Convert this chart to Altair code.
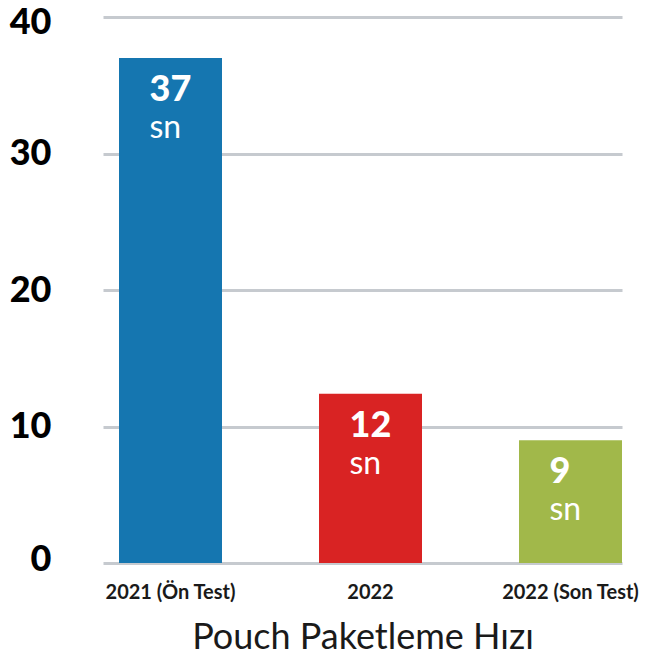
import altair as alt
import pandas as pd

categories = ["2021 (Ön Test)", "2022", "2022 (Son Test)"]
values = [37, 12.4, 9]
value_labels = ["37", "12", "9"]
unit_labels = ["sn", "sn", "sn"]
colors = ["#1576b0", "#d92323", "#a1b84a"]
y_ticks = [0, 10, 20, 30, 40]
title_text = "Pouch Paketleme Hızı"

df = pd.DataFrame({
    "cat": categories,
    "val": values,
    "lbl": value_labels,
    "unit": unit_labels,
})

FONT = "Lato"

x_enc = alt.X(
    "cat:N",
    sort=categories,
    scale=alt.Scale(paddingInner=0.485, paddingOuter=0.04, align=1),
    axis=alt.Axis(
        title=title_text,
        labelAngle=0,
        labelFont=FONT,
        labelFontSize=20,
        labelFontWeight="bold",
        labelColor="#1a1a1a",
        labelPadding=19,
        domain=False,
        ticks=False,
        grid=False,
        titleFont=FONT,
        titleFontSize=36,
        titleFontWeight="normal",
        titleColor="#1a1a1a",
        titlePadding=18,
    ),
)

y_scale = alt.Scale(domain=[0, 40], nice=False)

bars = alt.Chart(df).mark_bar().encode(
    x=x_enc,
    y=alt.Y(
        "val:Q",
        scale=y_scale,
        axis=alt.Axis(
            values=y_ticks,
            title=None,
            labelFont=FONT,
            labelFontSize=36,
            labelFontWeight=900,
            labelColor="#000000",
            labelPadding=52,
            labelOffset={
                "condition": [
                    {"test": "datum.value == 40", "value": 5},
                    {"test": "datum.value == 0", "value": -4},
                ],
                "value": 0,
            },
            domain=False,
            ticks=False,
            grid=True,
            gridColor="#c6cacf",
            gridWidth=3,
        ),
    ),
    color=alt.Color("cat:N", scale=alt.Scale(domain=categories, range=colors), legend=None),
)

nums = alt.Chart(df).mark_text(
    align="left", baseline="alphabetic", dx=-21, dy=43,
    font=FONT, fontSize=36, fontWeight=900, color="white",
).encode(
    x=alt.X("cat:N", sort=categories),
    y=alt.Y("val:Q", scale=y_scale),
    text="lbl:N",
)

units = alt.Chart(df).mark_text(
    align="left", baseline="alphabetic", dx=-21, dy=80,
    font=FONT, fontSize=32, fontWeight="normal", color="white",
).encode(
    x=alt.X("cat:N", sort=categories),
    y=alt.Y("val:Q", scale=y_scale),
    text="unit:N",
)

chart = alt.layer(bars, nums, units).properties(
    width=519,
    height=546,
    autosize=alt.AutoSizeParams(type="none"),
    padding={"left": 95, "top": 9, "right": 19, "bottom": 86},
    background="white",
).configure_view(stroke=None)

chart.save("out.html", embed_options={"renderer": "svg", "actions": False})
